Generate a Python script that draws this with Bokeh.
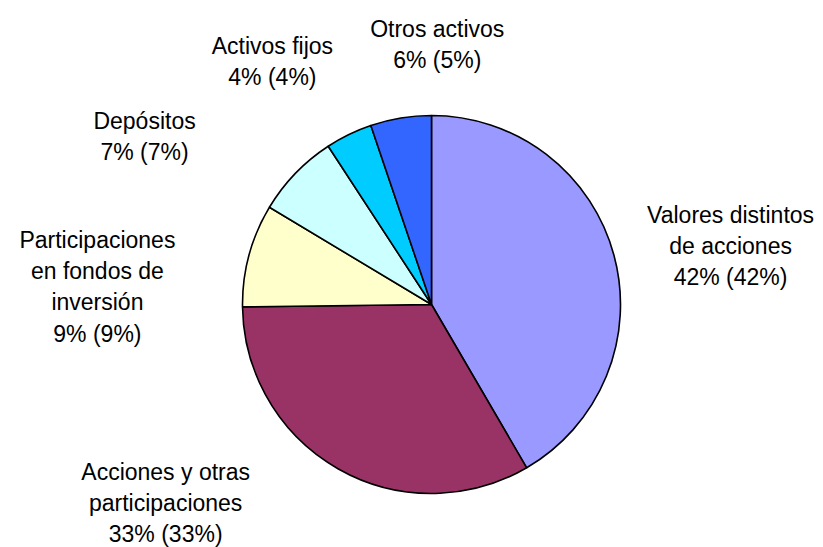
import math
from bokeh.plotting import figure
from bokeh.models import ColumnDataSource
from bokeh.core.properties import value
from bokeh.embed import file_html
from bokeh.resources import INLINE

# ---- data ----
categories = ["Valores distintos\nde acciones", "Acciones y otras\nparticipaciones",
              "Participaciones\nen fondos de\ninversión", "Depósitos", "Activos fijos", "Otros activos"]
shares = [41.6, 33.2, 8.8, 7.2, 4.0, 5.2]
pct_labels = ["42% (42%)", "33% (33%)", "9% (9%)", "7% (7%)", "4% (4%)", "6% (5%)"]
colors = ["#9999FF", "#993366", "#FFFFCC", "#CCFFFF", "#00CCFF", "#3366FF"]

# ---- layout ----
W, H = 823, 547
cx, cy, r = 431, 243, 189
label_r = r + 40
nudges = [(78, -1), (-153, 1), (-113, -42), (-122, 9), (-59, 37), (43, 34)]

total = sum(shares)
starts, ends, lx, ly, texts = [], [], [], [], []
cum = 0.0
for i, s in enumerate(shares):
    a0 = cum / total * 2 * math.pi
    cum += s
    a1 = cum / total * 2 * math.pi
    starts.append(math.pi / 2 - a0)
    ends.append(math.pi / 2 - a1)
    am = (a0 + a1) / 2
    lx.append(cx + label_r * math.sin(am) + nudges[i][0])
    ly.append(cy + label_r * math.cos(am) + nudges[i][1])
    texts.append(categories[i] + "\n" + pct_labels[i])

src = ColumnDataSource(dict(start=starts, end=ends, color=colors))
lsrc = ColumnDataSource(dict(x=lx, y=ly, text=texts))

p = figure(width=W, height=H, x_range=(0, W), y_range=(0, H),
           output_backend="svg", toolbar_location=None, min_border=0)
p.axis.visible = False
p.grid.visible = False
p.outline_line_color = None

p.wedge(x=cx, y=cy, radius=r, start_angle="start", end_angle="end", direction="clock",
        fill_color="color", line_color="black", line_width=1.6, source=src)

p.text(x="x", y="y", text="text", source=lsrc, text_align="center", text_baseline="middle",
       text_font=value("Liberation Sans"), text_font_size="23px", text_color="black",
       text_line_height=1.2)

open("out.html", "w").write(file_html(p, INLINE))
